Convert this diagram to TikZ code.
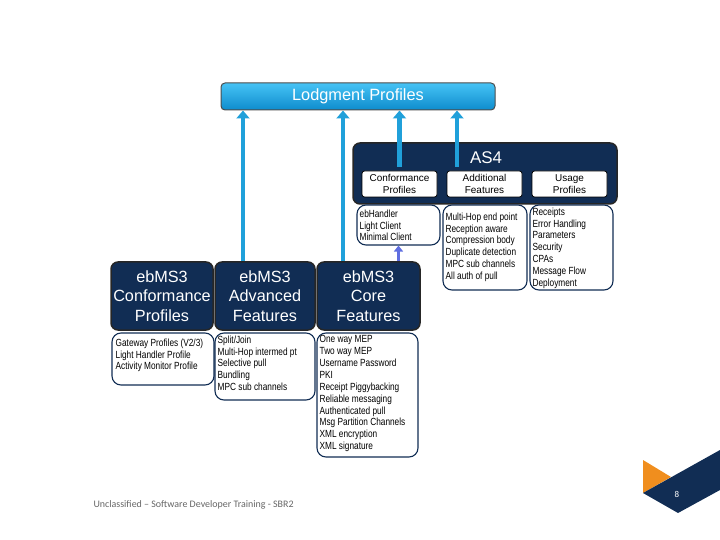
\documentclass[tikz,border=0pt]{standalone}
\usepackage{fontspec}
\setmainfont{Liberation Sans}
\newfontfamily\narrowfont[FakeStretch=0.8]{Liberation Sans}
\newfontfamily\footfont{Carlito}
\usetikzlibrary{arrows.meta,positioning}
\definecolor{navy}{RGB}{17,45,84}
\definecolor{barlight}{RGB}{70,195,245}
\definecolor{bardark}{RGB}{14,140,205}
\definecolor{arrowblue}{RGB}{32,160,218}
\definecolor{hoplilac}{RGB}{95,110,225}
\definecolor{slidegold}{RGB}{240,142,30}

\begin{document}
\begin{tikzpicture}[x=1bp,y=-1bp,
  darkbox/.style={draw=black!85,line width=1.5bp,fill=navy,rounded corners=7bp,text=white,align=center,inner sep=0pt},
  subbox/.style={draw=black,line width=0.8bp,fill=white,rounded corners=2.5bp,align=center,inner sep=0pt,minimum width=75bp,minimum height=26bp,font=\fontsize{10}{11.5}\selectfont},
  listbox/.style={draw=navy,line width=1.1bp,fill=white,rounded corners=9bp,inner sep=0pt},
  listtext/.style={anchor=north west,inner sep=0pt,align=left,font=\narrowfont\fontsize{10.4}{11.9}\selectfont},
  uparrow/.style={draw=arrowblue,line width=4.5bp,-{Triangle[width=13bp,length=8bp]}}]
\useasboundingbox (0,0) rectangle (720,540);

% top bar
\node[draw=black!70,line width=1bp,rounded corners=4bp,top color=barlight,bottom color=bardark,
  minimum width=274bp,minimum height=27bp,text=white,font=\fontsize{16.4}{18}\selectfont] (lodg) at (358,96.5) {Lodgment Profiles};

% AS4 block
\node[darkbox,minimum width=264bp,minimum height=61bp] (as4) at (485,173.5) {};
\node[text=white,font=\fontsize{17}{19}\selectfont] (as4t) at (486,158) {AS4};
\foreach \n/\x/\lab in {asconf/399.5/{Conformance\\Profiles},asadd/484.5/{Additional\\Features},asuse/569.5/{Usage\\Profiles}}{
  \node[subbox] (\n) at (\x,184) {\lab};
}

% AS4 feature lists
\node[listbox,minimum width=83bp,minimum height=40bp] (la) at (398.5,225) {};
\node[listtext] (lat) at ([shift={(3,5)}]la.north west) {ebHandler\\Light Client\\Minimal Client};
\node[listbox,minimum width=84bp,minimum height=85bp] (lb) at (485,247.5) {};
\node[listtext] (lbt) at ([shift={(3,8)}]lb.north west) {Multi-Hop end point\\Reception aware\\Compression body\\Duplicate detection\\MPC sub channels\\All auth of pull};
\node[listbox,minimum width=83bp,minimum height=85bp] (lc) at (571.5,247.5) {};
\node[listtext] (lct) at ([shift={(3,3)}]lc.north west) {Receipts\\Error Handling\\Parameters\\Security\\CPAs\\Message Flow\\Deployment};

% ebMS3 blocks
\foreach \n/\x/\w/\lab in {ebconf/162/102/{Conformance\\Profiles},ebadv/265/100/{Advanced\\Features},ebcore/368.5/103/{Core\\Features}}{
  \node[darkbox,minimum width=\w bp,minimum height=68bp,font=\fontsize{16.3}{19.5}\selectfont] (\n) at (\x,296) {ebMS3\\\lab};
}

% ebMS3 feature lists
\node[listbox,minimum width=102bp,minimum height=52bp] (ld) at (163,359) {};
\node[listtext] (ldt) at ([shift={(4,6)}]ld.north west) {Gateway Profiles (V2/3)\\Light Handler Profile\\Activity Monitor Profile};
\node[listbox,minimum width=100bp,minimum height=67bp] (le) at (265,366.5) {};
\node[listtext] (let) at ([shift={(3,3)}]le.north west) {Split/Join\\Multi-Hop intermed pt\\Selective pull\\Bundling\\MPC sub channels};
\node[listbox,minimum width=101bp,minimum height=124bp] (lf) at (367.5,395) {};
\node[listtext] (lft) at ([shift={(3,3)}]lf.north west) {One way MEP\\Two way MEP\\Username Password\\PKI\\Receipt Piggybacking\\Reliable messaging\\Authenticated pull\\Msg Partition Channels\\XML encryption\\XML signature};

% connectors
\draw[uparrow] ([xshift=-22bp]ebadv.north) -- ([xshift=-22bp]ebadv.north |- lodg.south);
\draw[uparrow] ([xshift=-25.5bp]ebcore.north) -- ([xshift=-25.5bp]ebcore.north |- lodg.south);
\draw[uparrow] ([yshift=4bp]asconf.north) -- (asconf.north |- lodg.south);
\draw[uparrow] ([xshift=-27.5bp,yshift=4bp]asadd.north) -- ([xshift=-27.5bp]asadd.north |- lodg.south);
\draw[draw=hoplilac,line width=3bp,-{Triangle[width=9bp,length=6bp]}] (la.south |- ebcore.north) -- (la.south);

% footer
\node[anchor=west,text=black!60,font=\footfont\fontsize{10}{12}\selectfont] (foot) at (90,505) {Unclassified – Software Developer Training - SBR2};
\fill[slidegold] (643,460) -- (671,477) -- (643,493) -- cycle;
\fill[navy] (643,493) -- (720,450) -- (720,490) -- (678,513) -- cycle;
\node[text=white,font=\footfont\fontsize{9}{10}\selectfont] (pg) at (677,494) {8};
\end{tikzpicture}
\end{document}
